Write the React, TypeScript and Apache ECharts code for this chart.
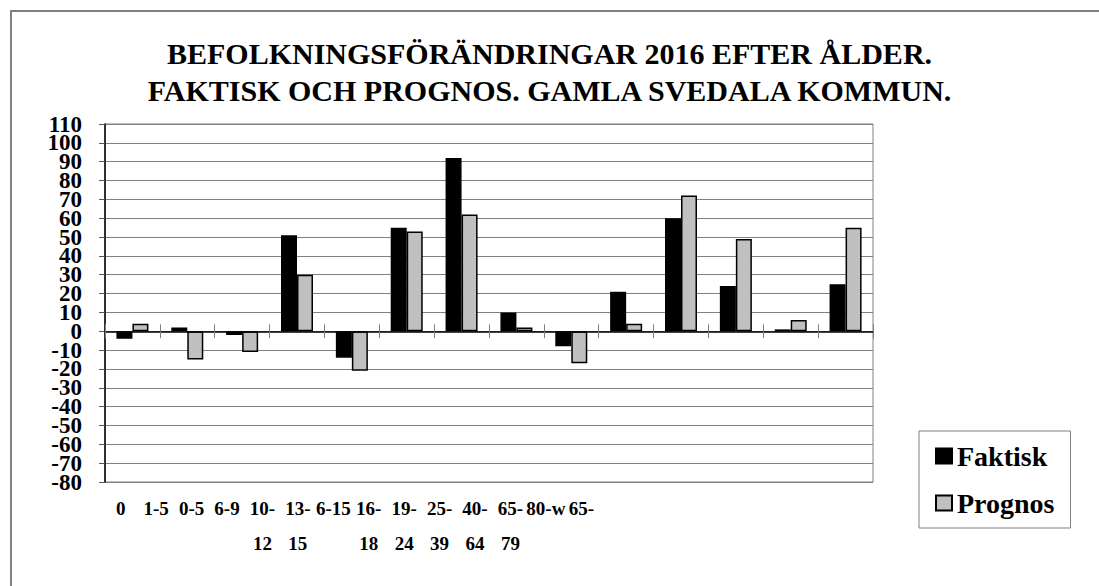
import React, { useEffect, useRef } from "react";
import * as echarts from "echarts";

const categories = ["0", "1-5", "0-5", "6-9", "10-\n12", "13-\n15", "6-15", "16-\n18", "19-\n24", "25-\n39", "40-\n64", "65-\n79", "80-w", "65-"];
const faktisk = [-4, 2, -2, 51, -14, 55, 92, 10, -8, 21, 60, 24, 1, 25];
const prognos = [4, -15, -11, 30, -21, 53, 62, 2, -17, 4, 72, 49, 6, 55];
const yTickLabels = ["-80", "-70", "-60", "-50", "-40", "-30", "-20", "-10", "0", "10", "20", "30", "40", "50", "60", "70", "80", "90", "100", "110"];
const titleText = "BEFOLKNINGSFÖRÄNDRINGAR 2016 EFTER ÅLDER.\nFAKTISK OCH PROGNOS. GAMLA SVEDALA KOMMUN.";
const yMin = -80;
const yMax = 110;
const yStep = 10;

const FONT = "Liberation Serif, Times New Roman, serif";

export default function App() {
  const ref = useRef<HTMLDivElement>(null);
  useEffect(() => {
    if (!ref.current) return;
    const chart = echarts.init(ref.current, null, { renderer: "svg" });
    chart.setOption({
      animation: false,
      backgroundColor: "#ffffff",
      textStyle: { fontFamily: FONT },
      title: {
        text: titleText,
        left: "center",
        top: 30,
        textStyle: { fontFamily: FONT, fontSize: 30, fontWeight: "bold", color: "#000", lineHeight: 37 },
      },
      legend: {
        orient: "vertical",
        left: 919,
        top: 431,
        padding: [11, 16, 11, 16],
        itemGap: 19,
        itemWidth: 16,
        itemHeight: 15,
        borderColor: "#808080",
        borderWidth: 1,
        icon: "rect",
        textStyle: { fontFamily: FONT, fontSize: 28, fontWeight: "bold", color: "#000" },
        data: ["Faktisk", "Prognos"],
      },
      graphic: [
        {
          type: "rect",
          shape: { x: 11, y: 11, width: 1200, height: 700 },
          style: { fill: "none", stroke: "#808080", lineWidth: 2 },
          silent: true,
        },
      ],
      grid: [
        { left: 105, top: 124, width: 768, height: 358, show: true, borderColor: "#808080", borderWidth: 1, backgroundColor: "transparent" },
        { left: 103, top: 482, width: 496, height: 1 },
      ],
      xAxis: [
        {
          type: "category",
          gridIndex: 0,
          data: categories,
          position: "bottom",
          z: 5,
          axisLine: { show: true, onZero: true, onZeroAxisIndex: 0, lineStyle: { color: "#000", width: 1.5 } },
          axisTick: { show: true, length: 7, inside: false, lineStyle: { color: "#808080" } },
          axisLabel: { show: false },
          splitLine: { show: false },
        },
        {
          type: "category",
          gridIndex: 0,
          data: categories,
          position: "bottom",
          axisLine: { show: false, onZero: true, onZeroAxisIndex: 0 },
          axisTick: { show: true, length: 7, inside: true, lineStyle: { color: "#808080" } },
          axisLabel: { show: false },
          splitLine: { show: false },
        },
        {
          type: "category",
          gridIndex: 1,
          data: categories,
          position: "bottom",
          axisLine: { show: false },
          axisTick: { show: false },
          axisLabel: {
            show: true,
            interval: 0,
            margin: 8,
            fontFamily: FONT,
            fontSize: 19,
            fontWeight: "bold",
            color: "#000",
            lineHeight: 35,
          },
          splitLine: { show: false },
        },
      ],
      yAxis: [
        {
          type: "value",
          gridIndex: 0,
          min: yMin,
          max: yMax,
          interval: yStep,
          position: "left",
          axisLine: { show: true, onZero: false, lineStyle: { color: "#000", width: 1.5 } },
          axisTick: { show: true, length: 6, lineStyle: { color: "#555" } },
          axisLabel: { show: false },
          splitLine: { show: true, lineStyle: { color: "#808080", width: 1 } },
        },
        {
          type: "category",
          gridIndex: 0,
          position: "left",
          data: yTickLabels,
          boundaryGap: false,
          axisLine: { show: false, onZero: false },
          axisTick: { show: false },
          splitLine: { show: false },
          axisLabel: {
            show: true,
            interval: 0,
            margin: 23,
            fontFamily: FONT,
            fontSize: 23,
            fontWeight: "bold",
            color: "#000",
          },
        },
        { type: "value", gridIndex: 1, show: false },
      ],
      series: [
        {
          name: "Faktisk",
          type: "bar",
          xAxisIndex: 0,
          yAxisIndex: 0,
          data: faktisk,
          barWidth: 16,
          barGap: "0%",
          itemStyle: { color: "#000000", borderColor: "#000000", borderWidth: 1.5 },
        },
        {
          name: "Prognos",
          type: "bar",
          xAxisIndex: 0,
          yAxisIndex: 0,
          data: prognos,
          barWidth: 16,
          barGap: "0%",
          itemStyle: { color: "#c0c0c0", borderColor: "#000000", borderWidth: 1.5 },
        },
      ],
    });
    return () => chart.dispose();
  }, []);
  return <div ref={ref} style={{ position: "fixed", left: 0, top: 0, width: 1099, height: 586 }} />;
}
